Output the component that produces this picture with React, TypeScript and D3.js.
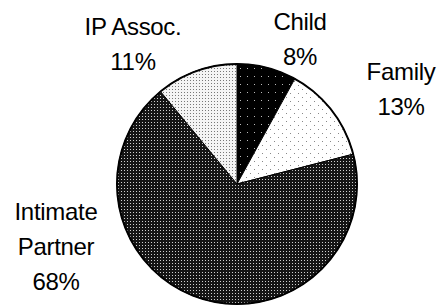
import React, { useRef, useEffect } from 'react';
import * as d3 from 'd3';

// Slice data, clockwise from 12 o'clock
const categories = ['Child', 'Family', 'Intimate Partner', 'IP Assoc.'];
const shares = [8, 13, 68, 11];
const labelLines = [['Child', '8%'], ['Family', '13%'], ['Intimate', 'Partner', '68%'], ['IP Assoc.', '11%']];

const width = 440;
const height = 307;

const App: React.FC = () => {
  const svgRef = useRef<SVGSVGElement>(null);

  useEffect(() => {
    if (!svgRef.current) return;
    const svg = d3.select(svgRef.current);
    svg.selectAll('*').remove();

    const cx = 237;
    const cy = 184;
    const radius = 120;

    const defs = svg.append('defs');

    // Child: black with sparse white dots
    const pChild = defs.append('pattern').attr('id', 'p-child')
      .attr('patternUnits', 'userSpaceOnUse').attr('width', 7).attr('height', 8);
    pChild.append('rect').attr('width', 7).attr('height', 8).attr('fill', '#000');
    pChild.append('rect').attr('x', 3).attr('y', 4).attr('width', 1).attr('height', 1).attr('fill', '#bbb');

    // Family: white with sparse grey dots
    const pFamily = defs.append('pattern').attr('id', 'p-family')
      .attr('patternUnits', 'userSpaceOnUse').attr('width', 8).attr('height', 8);
    pFamily.append('rect').attr('width', 8).attr('height', 8).attr('fill', '#fff');
    pFamily.append('rect').attr('x', 1).attr('y', 1).attr('width', 1).attr('height', 1).attr('fill', '#888');
    pFamily.append('rect').attr('x', 5).attr('y', 5).attr('width', 1).attr('height', 1).attr('fill', '#888');

    // Intimate partner: near-black with dense white dots
    const pIntimate = defs.append('pattern').attr('id', 'p-intimate')
      .attr('patternUnits', 'userSpaceOnUse').attr('width', 3).attr('height', 3);
    pIntimate.append('rect').attr('width', 3).attr('height', 3).attr('fill', '#151515');
    pIntimate.append('rect').attr('x', 1).attr('y', 1).attr('width', 1).attr('height', 1).attr('fill', '#d0d0d0');

    // IP assoc: white with dense grey dots
    const pAssoc = defs.append('pattern').attr('id', 'p-assoc')
      .attr('patternUnits', 'userSpaceOnUse').attr('width', 3).attr('height', 3);
    pAssoc.append('rect').attr('width', 3).attr('height', 3).attr('fill', '#f4f4f4');
    pAssoc.append('rect').attr('x', 1).attr('y', 1).attr('width', 1).attr('height', 1).attr('fill', '#777');

    const fills = ['url(#p-child)', 'url(#p-family)', 'url(#p-intimate)', 'url(#p-assoc)'];

    const pie = d3.pie<number>().sort(null).value(d => d);
    const arcs = pie(shares);
    const arc = d3.arc<d3.PieArcDatum<number>>().innerRadius(0).outerRadius(radius);

    const g = svg.append('g').attr('transform', `translate(${cx}, ${cy})`);

    g.selectAll('.slice')
      .data(arcs)
      .enter()
      .append('path')
      .attr('class', 'slice')
      .attr('d', arc)
      .attr('fill', (d, i) => fills[i])
      .attr('stroke', '#000')
      .attr('stroke-width', 1)
      .attr('stroke-linejoin', 'round');

    g.append('circle')
      .attr('r', radius)
      .attr('fill', 'none')
      .attr('stroke', '#000')
      .attr('stroke-width', 2);

    // label anchors (center x, baseline of first line), chosen by eye
    const labelPos: [number, number][] = [[300, 30], [401, 80], [56, 220], [133, 35]];
    const lineGap = 35;

    labelLines.forEach((lines, i) => {
      const [lx, ly] = labelPos[i];
      const t = svg.append('text')
        .attr('x', lx)
        .attr('y', ly)
        .attr('text-anchor', 'middle')
        .attr('font-family', '"Liberation Sans", Arial, sans-serif')
        .attr('font-size', '24px')
        .attr('letter-spacing', '-0.3px')
        .attr('fill', '#000')
        .attr('aria-label', categories[i]);
      lines.forEach((line, j) => {
        t.append('tspan').attr('x', lx).attr('y', ly + j * lineGap).text(line);
      });
    });
  }, []);

  return (
    <svg
      ref={svgRef}
      width={width}
      height={height}
      style={{ position: 'absolute', left: 0, top: 0, background: '#fff' }}
    />
  );
};

export default App;
